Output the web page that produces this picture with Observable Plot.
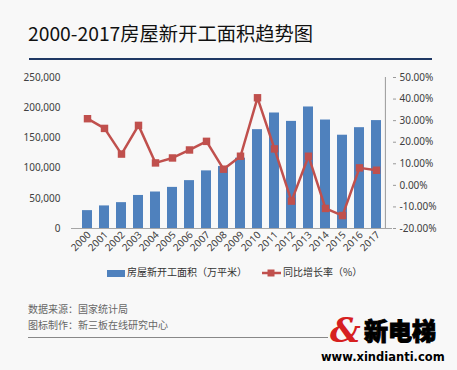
<!DOCTYPE html>
<html>
<head>
<meta charset="utf-8">
<script src="https://cdn.jsdelivr.net/npm/d3@7"></script>
<script src="https://cdn.jsdelivr.net/npm/@observablehq/plot@0.6"></script>
<style>
  html, body { margin: 0; padding: 0; }
  body { width: 457px; height: 370px; background: #f8f8f8; position: relative; overflow: hidden;
         font-family: "Noto Sans CJK SC", "Noto Sans", sans-serif; }
  .abs { position: absolute; }
  #title { left: 28px; top: 20px; font-size: 19.3px; line-height: 26px; color: #111; white-space: nowrap; }
  #rule { left: 29px; top: 58px; width: 403px; height: 1.5px; background: #1f3864; }
  #chart1, #chart2 { left: 0; top: 62px; }
  .legend { font-size: 10px; color: #333; line-height: 14px; white-space: nowrap; }
  .src { font-size: 10px; color: #666; left: 28px; white-space: nowrap; line-height: 14px; }
  #foot { left: 28px; top: 337px; width: 300px; height: 1px; background: #888; }
</style>
</head>
<body>
<div id="title" class="abs">2000-2017房屋新开工面积趋势图</div>
<div id="rule" class="abs"></div>
<div id="chart1" class="abs"></div>
<div id="chart2" class="abs"></div>

<div class="abs legend" style="left:107px; top:265px;">
  <span style="display:inline-block;width:18px;height:7px;background:#4f81bd;vertical-align:middle;margin-right:2px;"></span>房屋新开工面积（万平米）
</div>
<div class="abs legend" style="left:262px; top:265px;">
  <svg width="19" height="10" style="vertical-align:middle;margin-right:2px;"><line x1="0" y1="5" x2="19" y2="5" stroke="#c0504d" stroke-width="2.5"/><rect x="5.5" y="1.5" width="7" height="7" fill="#c0504d"/></svg>同比增长率（%）
</div>

<div class="abs src" style="top:302px;">数据来源：国家统计局</div>
<div class="abs src" style="top:318px;">图标制作：新三板在线研究中心</div>
<div id="foot" class="abs"></div>

<div class="abs" style="left:330px; top:312px; font-size:34px; font-weight:bold; color:#d62020; font-family:'DejaVu Serif',serif; font-style:italic; line-height:36px;">&amp;</div>
<div class="abs" style="left:364px; top:315px; font-size:24px; font-weight:900; color:#000; line-height:30px; -webkit-text-stroke:1px #000; text-shadow:0 0 2px #fff, 0 0 2px #fff;">新电梯</div>
<div class="abs" style="left:321px; top:350px; font-size:11.5px; font-weight:900; color:#000; line-height:14px; font-family:'DejaVu Sans',sans-serif; text-shadow:0 0 2px #fff;">www.xindianti.com</div>

<script>
const years = ["2000","2001","2002","2003","2004","2005","2006","2007","2008","2009","2010","2011","2012","2013","2014","2015","2016","2017"];
const area = [29583, 37394, 42801, 54708, 60414, 68064, 79253, 95402, 102553, 116422, 163647, 191237, 177334, 201208, 179592, 154454, 166928, 178654];
const growth = [30.9, 26.4, 14.5, 27.8, 10.4, 12.7, 16.4, 20.4, 7.5, 13.5, 40.6, 16.9, -7.3, 13.5, -10.7, -14.0, 8.1, 7.0];
const leftTicks = [0, 50000, 100000, 150000, 200000, 250000];
const rightTicks = [-20, -10, 0, 10, 20, 30, 40, 50];

const rows = years.map((y, i) => ({year: y, area: area[i], growth: growth[i]}));

const common = {
  width: 457, height: 200,
  marginTop: 15, marginBottom: 34, marginLeft: 71, marginRight: 65,
  style: {background: "transparent", fontFamily: "'Noto Sans', 'DejaVu Sans', sans-serif", fontSize: "10px", color: "#404040"},
  x: {type: "band", domain: years, paddingInner: 0.44, paddingOuter: 0.22, axis: null}
};

const fmt = d3.format(",");
const p1 = Plot.plot({
  ...common,
  y: {domain: [0, 250000], axis: null},
  marks: [
    Plot.barY(rows, {x: "year", y: "area", fill: "#4f81bd"}),
    Plot.ruleY([0], {stroke: "#a6a6a6", strokeWidth: 1}),
    Plot.axisY({ticks: leftTicks, tickFormat: d => fmt(d), tickSize: 0, tickPadding: 11, label: null, fill: "#404040"}),
    Plot.text(years, {x: d => d, frameAnchor: "bottom", rotate: -45, textAnchor: "end", dx: 4, dy: 7, fill: "#404040", fontSize: 10})
  ]
});
document.getElementById("chart1").appendChild(p1);

const p2 = Plot.plot({
  ...common,
  y: {domain: [-20, 50], axis: null},
  marks: [
    Plot.line(rows, {x: "year", y: "growth", stroke: "#c0504d", strokeWidth: 2.5}),
    Plot.dot(rows, {x: "year", y: "growth", symbol: "square", r: 4.2, fill: "#c0504d", stroke: "none"}),
    Plot.axisY({anchor: "right", ticks: rightTicks, tickFormat: d => d.toFixed(2) + "%", tickSize: 3, tickPadding: 4, label: null, fill: "#404040", stroke: "#999"}),
    Plot.ruleX([years[17]], {dx: 8.9, stroke: "#999", y1: -20, y2: 50})
  ]
});
document.getElementById("chart2").appendChild(p2);
</script>
</body>
</html>
